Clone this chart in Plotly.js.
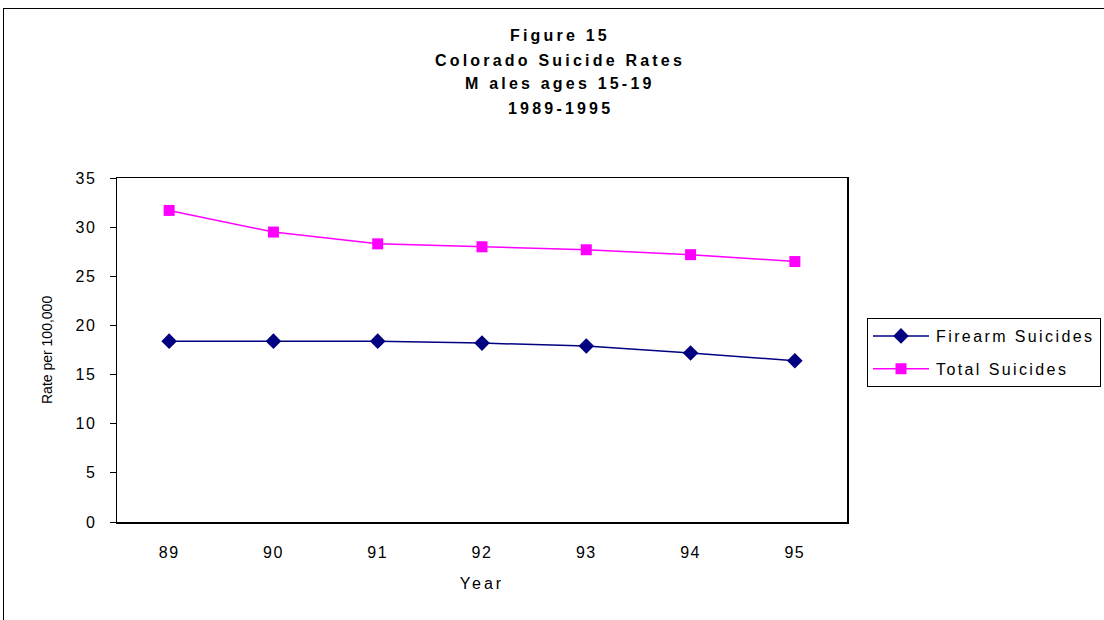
<!DOCTYPE html>
<html>
<head>
<meta charset="utf-8">
<script src="https://cdn.plot.ly/plotly-3.0.1.min.js"></script>
<style>
  html, body { margin: 0; padding: 0; background: #fff; }
  #wrap { position: relative; width: 1104px; height: 620px; }
  #frame { position: absolute; left: 3px; top: 8px; right: -2px; bottom: -2px;
           border-left: 1px solid #000; border-top: 1px solid #000; pointer-events: none; }
  #chart { width: 1104px; height: 620px; }
  .xtick text, .ytick text { letter-spacing: 1.5px; }
</style>
</head>
<body>
<div id="wrap">
  <div id="chart"></div>
  <div id="frame"></div>
</div>
<script>
// Colorado suicide rates, males aged 15-19
const years = ['89', '90', '91', '92', '93', '94', '95'];
const firearmSuicides = [18.4, 18.4, 18.4, 18.2, 17.9, 17.2, 16.4];
const totalSuicides = [31.7, 29.5, 28.3, 28.0, 27.7, 27.2, 26.5];
const seriesNames = ['Firearm Suicides', 'Total Suicides'];
const titleLines = ['Figure 15', 'Colorado Suicide Rates', 'M ales ages 15-19', '1989-1995'];

const spaced = (t, px) => '<span style="letter-spacing:' + px + 'px">' + t + '</span>';

const traces = [
  {
    x: years, y: firearmSuicides, name: spaced(seriesNames[0], 2.4), type: 'scatter', mode: 'lines+markers',
    legendgroup: 'a',
    line: { color: '#000080', width: 1.5 },
    marker: { symbol: 'diamond', size: 12, color: '#000080' }
  },
  {
    x: years, y: totalSuicides, name: spaced(seriesNames[1], 2.4), type: 'scatter', mode: 'lines+markers',
    legendgroup: 'b',
    line: { color: '#FF00FF', width: 1.5 },
    marker: { symbol: 'square', size: 11, color: '#FF00FF' }
  }
];

// Title lines sit at fixed pixel rows above the plot area
const plotTop = 178, plotBottom = 522, plotLeft = 117, plotRight = 847;
const lineRows = [36, 60, 84, 108];
const annotations = titleLines.map((t, i) => ({
  text: '<b>' + spaced(t, 3.2) + '</b>',
  xref: 'paper', yref: 'paper',
  x: (560 - plotLeft) / (plotRight - plotLeft),
  y: (plotBottom - lineRows[i]) / (plotBottom - plotTop),
  xanchor: 'center', yanchor: 'middle',
  showarrow: false,
  font: { family: 'Liberation Sans, Arial, sans-serif', size: 16, color: '#000' }
}));

// Y axis title placed by hand
annotations.push({
  text: 'Rate per 100,000',
  xref: 'paper', yref: 'paper',
  x: (47 - plotLeft) / (plotRight - plotLeft), y: 0.5,
  xanchor: 'center', yanchor: 'middle', textangle: -90,
  showarrow: false,
  font: { family: 'Liberation Sans, Arial, sans-serif', size: 14, color: '#000' }
});

const layout = {
  width: 1104, height: 620,
  margin: { l: plotLeft, r: 1104 - plotRight, t: plotTop, b: 620 - plotBottom, pad: 0, autoexpand: false },
  paper_bgcolor: '#fff', plot_bgcolor: '#fff',
  font: { family: 'Liberation Sans, Arial, sans-serif', size: 14, color: '#000' },
  showlegend: true,
  legend: {
    x: (867 - plotLeft) / (plotRight - plotLeft), xanchor: 'left',
    y: (plotBottom - 318) / (plotBottom - plotTop), yanchor: 'top',
    bordercolor: '#000', borderwidth: 1, bgcolor: '#fff',
    font: { size: 16, color: '#000' },
    itemwidth: 58,
    traceorder: 'grouped', tracegroupgap: 9
  },
  xaxis: {
    type: 'category',
    range: [-0.5, 6.5],
    showline: true, linecolor: '#000', linewidth: 1.5, mirror: true,
    showgrid: false, zeroline: false,
    ticks: 'outside', ticklen: 15, tickcolor: 'rgba(0,0,0,0)',
    tickfont: { size: 16 },
    title: { text: spaced('Year', 3), font: { size: 16 }, standoff: 18 },
    fixedrange: true
  },
  yaxis: {
    range: [0, 35], dtick: 5,
    showline: true, linecolor: '#000', linewidth: 1.5, mirror: true,
    showgrid: false, zeroline: false,
    ticks: 'outside', ticklen: 6, tickcolor: '#000',
    ticklabelstandoff: 10,
    tickfont: { size: 16 },
    fixedrange: true
  },
  annotations: annotations
};

Plotly.newPlot('chart', traces, layout, { staticPlot: true }).then(gd => {
  // Longer legend sample lines with the marker centred on them
  gd.querySelectorAll('.legend .legendlines path').forEach(p => p.setAttribute('d', 'M5,0h56'));
  gd.querySelectorAll('.legend .legendpoints path').forEach(p => p.setAttribute('transform', 'translate(33,0)'));
});
</script>
</body>
</html>
